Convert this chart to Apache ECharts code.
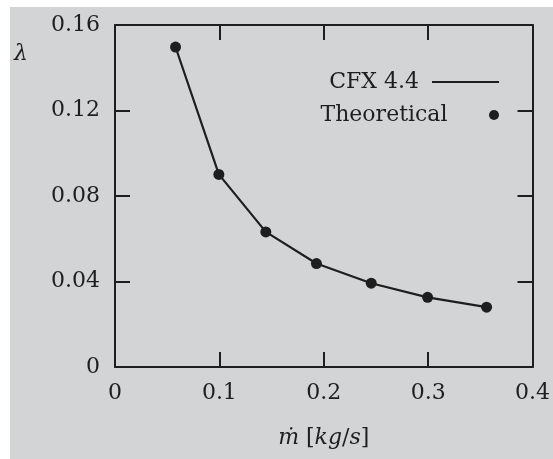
<!DOCTYPE html>
<html>
<head>
<meta charset="utf-8">
<script src="https://cdn.jsdelivr.net/npm/echarts@6/dist/echarts.min.js"></script>
<style>
html,body{margin:0;padding:0;background:#ffffff;}
#c{position:absolute;left:10px;top:7px;width:543px;height:452px;}
</style>
</head>
<body>
<div id="c"></div>
<script>
// Data
var massFlow = [0.058, 0.0995, 0.1445, 0.193, 0.2455, 0.2995, 0.356];
var lambdaCFX = [0.1497, 0.0901, 0.0632, 0.0484, 0.0392, 0.0326, 0.0280];
var lambdaTheory = [0.1497, 0.0901, 0.0632, 0.0484, 0.0392, 0.0326, 0.0280];
var xTicks = ['0', '0.1', '0.2', '0.3', '0.4'];
var yTicks = ['0', '0.04', '0.08', '0.12', '0.16'];

var ink = '#1e1e1e';
var font = 'DejaVu Serif';
function pairs(xs, ys){ return xs.map(function(x,i){ return [x, ys[i]]; }); }

var chart = echarts.init(document.getElementById('c'));
var axisCommon = {
  type: 'value',
  axisLine: {show: true, onZero: false, lineStyle: {color: ink, width: 2}},
  axisTick: {show: true, inside: true, length: 15, lineStyle: {color: ink, width: 2}},
  splitLine: {show: false}
};
chart.setOption({
  backgroundColor: '#d3d4d6',
  animation: false,
  title: {
    text: 'λ', left: 4, top: 36, padding: 0,
    textStyle: {fontFamily: font, fontStyle: 'italic', fontWeight: 'normal', fontSize: 22, color: ink}
  },
  grid: {left: 105, right: 15, top: 18, bottom: 92},
  legend: [
    {
      data: ['CFX 4.4'], orient: 'vertical', align: 'right', right: 54, top: 64, padding: 0,
      itemWidth: 67, itemHeight: 2, icon: 'rect',
      textStyle: {fontFamily: font, fontSize: 22, color: ink, padding: [0, 8, 0, 0]}
    },
    {
      data: ['Theoretical'], orient: 'vertical', align: 'right', right: 54, top: 97, padding: 0,
      itemWidth: 67, itemHeight: 10, icon: 'circle',
      textStyle: {fontFamily: font, fontSize: 22, color: ink, padding: [0, 8, 0, 0]}
    }
  ],
  xAxis: [
    Object.assign({}, axisCommon, {
      position: 'bottom', min: 0, max: 0.4, interval: 0.1,
      axisLabel: {margin: 15, fontFamily: font, fontSize: 22, color: ink,
        formatter: function(v){ return xTicks[Math.round(v / 0.1)]; }},
      name: '{i|ṁ} [{i|kg}/{i|s}]', nameLocation: 'middle', nameGap: 60,
      nameTextStyle: {fontFamily: font, fontSize: 22, color: ink,
        rich: {i: {fontFamily: font, fontStyle: 'italic', fontSize: 22, color: ink}}}
    }),
    Object.assign({}, axisCommon, {
      position: 'top', min: 0, max: 0.4, interval: 0.1, axisLabel: {show: false}
    })
  ],
  yAxis: [
    Object.assign({}, axisCommon, {
      position: 'left', min: 0, max: 0.16, interval: 0.04,
      axisLabel: {margin: 15, fontFamily: font, fontSize: 22, color: ink,
        formatter: function(v){ return yTicks[Math.round(v / 0.04)]; }}
    }),
    Object.assign({}, axisCommon, {
      position: 'right', min: 0, max: 0.16, interval: 0.04, axisLabel: {show: false}
    })
  ],
  series: [
    {
      name: 'CFX 4.4', type: 'line', data: pairs(massFlow, lambdaCFX),
      showSymbol: false, symbol: 'none',
      lineStyle: {color: ink, width: 2.2}, itemStyle: {color: ink}, z: 2
    },
    {
      name: 'Theoretical', type: 'scatter', data: pairs(massFlow, lambdaTheory),
      symbol: 'circle', symbolSize: 11, itemStyle: {color: ink, opacity: 1}, z: 3
    }
  ]
});
</script>
</body>
</html>
